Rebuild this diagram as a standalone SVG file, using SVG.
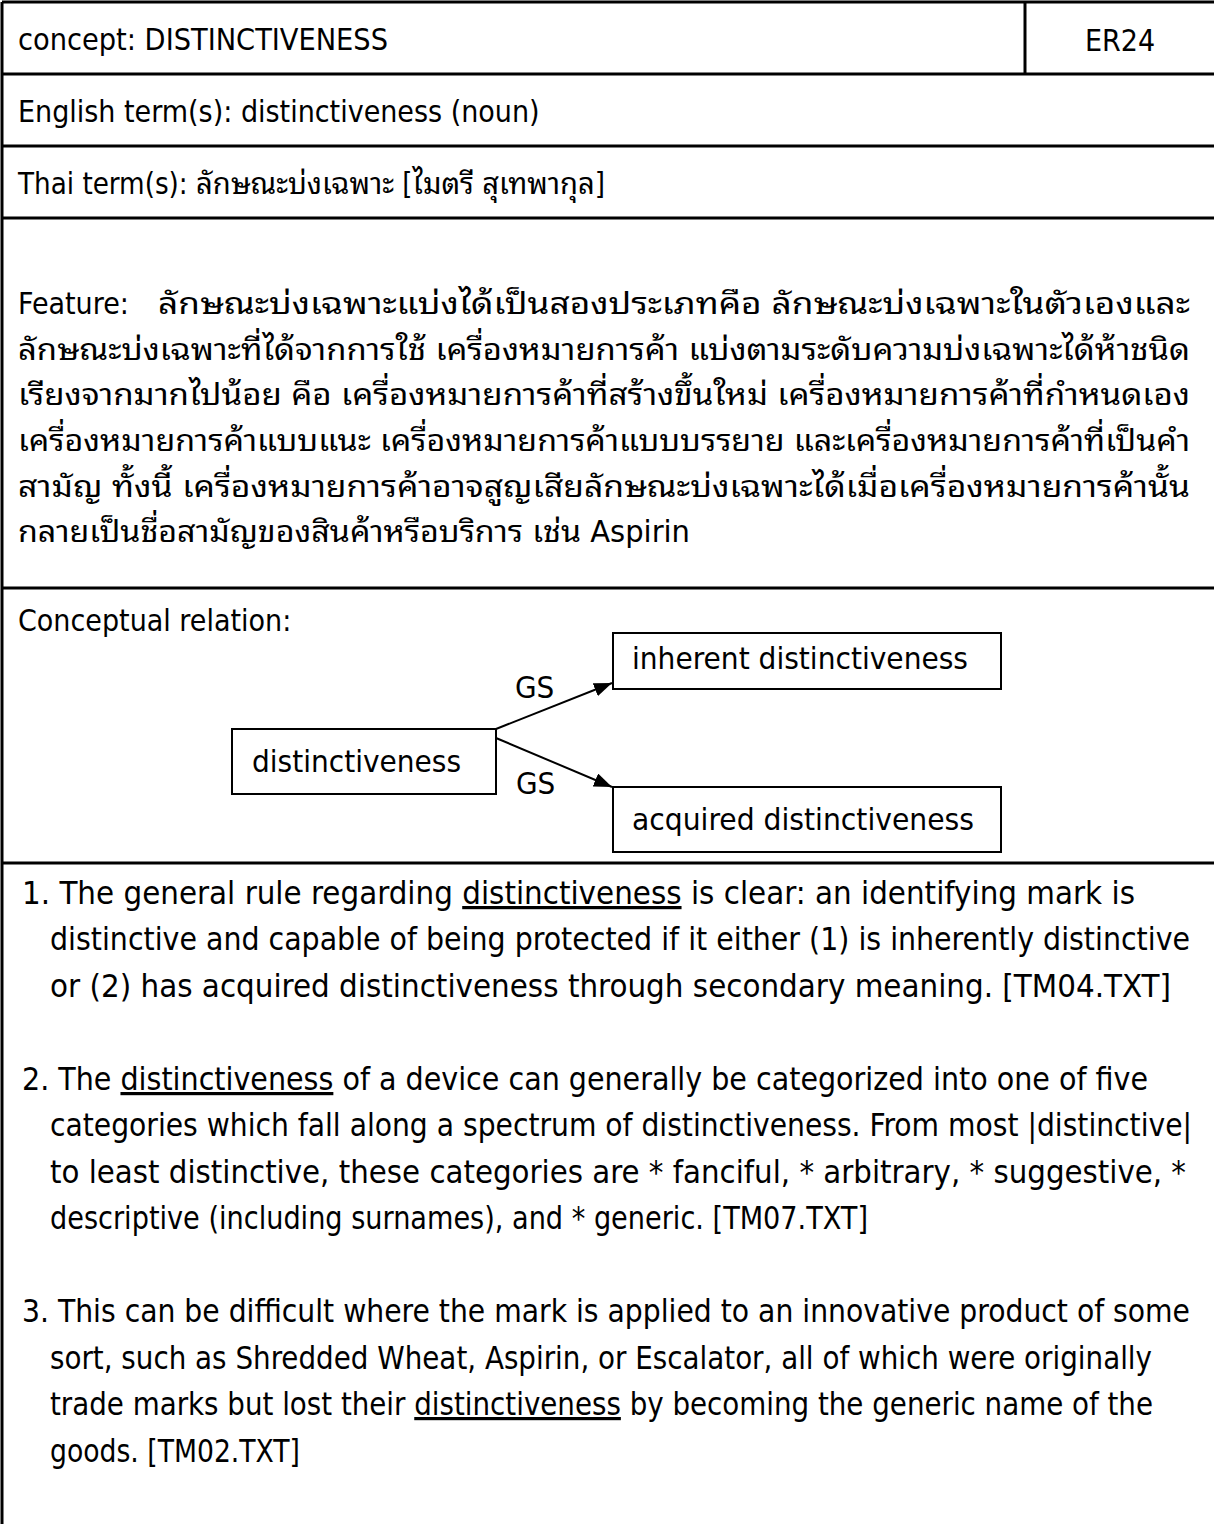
<svg xmlns="http://www.w3.org/2000/svg" width="1214" height="1524" viewBox="0 0 1214 1524">
  <style>
    .t { font-family: "DejaVu Sans Condensed", "DejaVu Sans", "Noto Sans Thai Looped", "Noto Sans Thai", "Noto Sans", sans-serif; font-stretch: condensed; font-size: 30px; fill: #000; }
    .th { font-family: "DejaVu Sans Condensed", "DejaVu Sans", "Noto Sans Thai Looped", "Noto Sans Thai", "Noto Sans", sans-serif; font-stretch: condensed; font-size: 30px; fill: #000; }
    .d { font-size: 31px; }
    .li { font-size: 32px; }
    .rule { stroke: #000; stroke-width: 3; fill: none; }
    .box { fill: #fff; stroke: #000; stroke-width: 2; }
    .edge { stroke: #000; stroke-width: 2; fill: none; }
    .u { text-decoration: underline; }
  </style>
  <defs>
    <marker id="arrowBig" viewBox="0 0 18 14" refX="18" refY="7" markerWidth="18" markerHeight="14" markerUnits="userSpaceOnUse" orient="auto">
      <path d="M0,0 L18,7 L0,14 z" fill="#000"/>
    </marker>
  </defs>

  <!-- table frame -->
  <g id="frame">
    <line class="rule" x1="2" y1="2" x2="1214" y2="2"/>
    <line class="rule" x1="2" y1="2" x2="2" y2="1524"/>
    <line class="rule" x1="1025" y1="2" x2="1025" y2="74"/>
    <line class="rule" x1="2" y1="74" x2="1214" y2="74"/>
    <line class="rule" x1="2" y1="146" x2="1214" y2="146"/>
    <line class="rule" x1="2" y1="218" x2="1214" y2="218"/>
    <line class="rule" x1="2" y1="588" x2="1214" y2="588"/>
    <line class="rule" x1="2" y1="863" x2="1214" y2="863"/>
  </g>

  <!-- header rows -->
  <g id="header">
    <text class="t" x="18" y="50" textLength="370" lengthAdjust="spacingAndGlyphs">concept: DISTINCTIVENESS</text>
    <text class="t" x="1085" y="51">ER24</text>
    <text class="t" x="18" y="122">English term(s): distinctiveness (noun)</text>
    <text class="th" x="18" y="194" textLength="587" lengthAdjust="spacingAndGlyphs">Thai term(s): ลักษณะบ่งเฉพาะ [ไมตรี สุเทพากุล]</text>
  </g>

  <!-- feature paragraph -->
  <g id="feature">
    <text class="th" x="18" y="314">Feature:</text>
    <text class="th" x="158" y="314" textLength="1032" lengthAdjust="spacingAndGlyphs">ลักษณะบ่งเฉพาะแบ่งได้เป็นสองประเภทคือ ลักษณะบ่งเฉพาะในตัวเองและ</text>
    <text class="th" x="18" y="360" textLength="1172" lengthAdjust="spacingAndGlyphs">ลักษณะบ่งเฉพาะที่ได้จากการใช้  เครื่องหมายการค้า แบ่งตามระดับความบ่งเฉพาะได้ห้าชนิด</text>
    <text class="th" x="18" y="405" textLength="1172" lengthAdjust="spacingAndGlyphs">เรียงจากมากไปน้อย คือ เครื่องหมายการค้าที่สร้างขึ้นใหม่ เครื่องหมายการค้าที่กำหนดเอง</text>
    <text class="th" x="18" y="451" textLength="1172" lengthAdjust="spacingAndGlyphs">เครื่องหมายการค้าแบบแนะ เครื่องหมายการค้าแบบบรรยาย และเครื่องหมายการค้าที่เป็นคำ</text>
    <text class="th" x="18" y="497" textLength="1172" lengthAdjust="spacingAndGlyphs">สามัญ  ทั้งนี้ เครื่องหมายการค้าอาจสูญเสียลักษณะบ่งเฉพาะได้เมื่อเครื่องหมายการค้านั้น</text>
    <text class="th" x="18" y="542" textLength="672" lengthAdjust="spacingAndGlyphs">กลายเป็นชื่อสามัญของสินค้าหรือบริการ เช่น Aspirin</text>
  </g>

  <text class="t" x="18" y="631">Conceptual relation:</text>

  <!-- relation connectors -->
  <g id="connectors">
    <line class="edge" x1="496" y1="729" x2="612" y2="683" marker-end="url(#arrowBig)"/>
    <line class="edge" x1="496" y1="738" x2="612" y2="787" marker-end="url(#arrowBig)"/>
    <text class="t d" x="515" y="698">GS</text>
    <text class="t d" x="516" y="794">GS</text>
  </g>

  <g id="node-inherent">
    <rect class="box" x="613" y="633" width="388" height="56"/>
    <text class="t d" x="632" y="669" textLength="336" lengthAdjust="spacingAndGlyphs">inherent distinctiveness</text>
  </g>
  <g id="node-distinctiveness">
    <rect class="box" x="232" y="729" width="264" height="65"/>
    <text class="t d" x="252" y="772" textLength="209" lengthAdjust="spacingAndGlyphs">distinctiveness</text>
  </g>
  <g id="node-acquired">
    <rect class="box" x="613" y="787" width="388" height="65"/>
    <text class="t d" x="632" y="830" textLength="342" lengthAdjust="spacingAndGlyphs">acquired distinctiveness</text>
  </g>

  <!-- citations -->
  <g id="examples" class="t li">
    <text x="22" y="904" textLength="1113" lengthAdjust="spacingAndGlyphs">1. The general rule regarding <tspan class="u">distinctiveness</tspan> is clear: an identifying mark is</text>
    <text x="50" y="950" textLength="1140" lengthAdjust="spacingAndGlyphs">distinctive and capable of being protected if it either (1) is inherently distinctive</text>
    <text x="50" y="997" textLength="1121" lengthAdjust="spacingAndGlyphs">or (2) has acquired distinctiveness through secondary meaning. [TM04.TXT]</text>

    <text x="22" y="1090" textLength="1126" lengthAdjust="spacingAndGlyphs">2. The <tspan class="u">distinctiveness</tspan> of a device can generally be categorized into one of five</text>
    <text x="50" y="1136" textLength="1142" lengthAdjust="spacingAndGlyphs">categories which fall along a spectrum of distinctiveness. From most |distinctive|</text>
    <text x="50" y="1183" textLength="1136" lengthAdjust="spacingAndGlyphs">to least distinctive, these categories are * fanciful, * arbitrary, * suggestive, *</text>
    <text x="50" y="1229" textLength="818" lengthAdjust="spacingAndGlyphs">descriptive (including surnames), and * generic. [TM07.TXT]</text>

    <text x="22" y="1322" textLength="1168" lengthAdjust="spacingAndGlyphs">3. This can be difficult where the mark is applied to an innovative product of some</text>
    <text x="50" y="1369" textLength="1102" lengthAdjust="spacingAndGlyphs">sort, such as Shredded Wheat, Aspirin, or Escalator, all of which were originally</text>
    <text x="50" y="1415" textLength="1103" lengthAdjust="spacingAndGlyphs">trade marks but lost their <tspan class="u">distinctiveness</tspan> by becoming the generic name of the</text>
    <text x="50" y="1462" textLength="250" lengthAdjust="spacingAndGlyphs">goods. [TM02.TXT]</text>
  </g>
</svg>
